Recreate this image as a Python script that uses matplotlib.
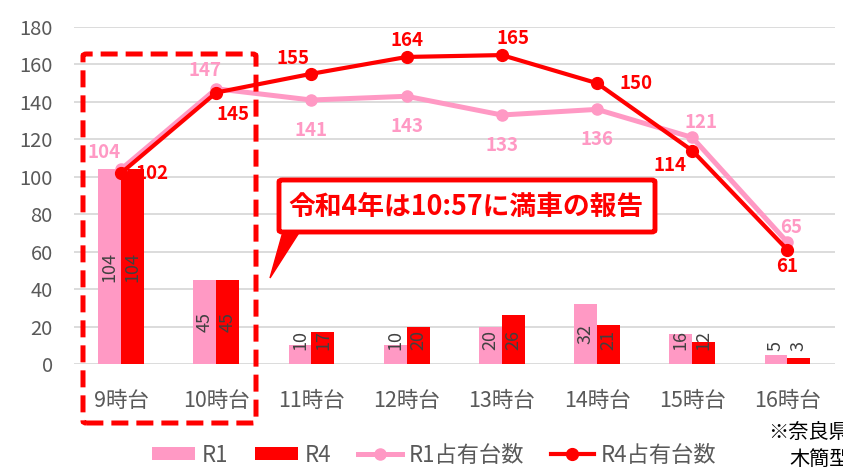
import matplotlib
matplotlib.use("Agg")
import matplotlib.pyplot as plt
from matplotlib.patches import Patch, FancyBboxPatch, Polygon
from matplotlib.lines import Line2D

plt.rcParams['font.family'] = ['Noto Sans CJK JP', 'DejaVu Sans']

# データ
hours = ['9時台', '10時台', '11時台', '12時台', '13時台', '14時台', '15時台', '16時台']
r1_bars = [104, 45, 10, 10, 20, 32, 16, 5]
r4_bars = [104, 45, 17, 20, 26, 21, 12, 3]
r1_occ = [104, 147, 141, 143, 133, 136, 121, 65]
r4_occ = [102, 145, 155, 164, 165, 150, 114, 61]

PINK = '#FF99C4'
RED = '#FF0000'
GRAY = '#595959'

W, H = 843, 468
fig = plt.figure(figsize=(W / 100, H / 100), dpi=100)
ax = fig.add_axes([73.5 / W, 1 - 364 / H, (835 - 73.5) / W, (364 - 27) / H])

def fx(px):
    return px / W

def fy(py):
    return 1 - py / H

x = list(range(len(hours)))
bw = 0.24
ax.bar([i - bw / 2 for i in x], r1_bars, width=bw, color=PINK, zorder=2)
ax.bar([i + bw / 2 for i in x], r4_bars, width=bw, color=RED, zorder=2)

# 棒グラフのラベル（縦書き）
for vals, off in ((r1_bars, -bw / 2), (r4_bars, bw / 2)):
    for i, v in enumerate(vals):
        yc = max(v / 2, 6.5 + 3.1 * len(str(v)))
        ax.text(i + off, yc, str(v), rotation=90, ha='center', va='center',
                fontsize=13, color='#404040', zorder=3)

ax.plot(x, r1_occ, color=PINK, lw=3.6, marker='o', ms=8, zorder=4)
ax.plot(x, r4_occ, color=RED, lw=3.0, marker='o', ms=8.5, zorder=5)

# 折れ線のラベル位置（ポイント単位のずれ）
r1_off = [(-12, 12), (-8, 13), (0, -22), (0, -22), (0, -22), (0, -22), (6, 11), (3, 11)]
r4_off = [(22, 0), (12, -16), (-13, 11), (0, 12), (8, 12), (28, 0), (-16, -11), (0, -12)]
for i, v in enumerate(r1_occ):
    ax.annotate(str(v), (i, v), xytext=r1_off[i], textcoords='offset points',
                ha='center', va='center', fontsize=13.5, fontweight='bold',
                color=PINK, zorder=6)
for i, v in enumerate(r4_occ):
    ax.annotate(str(v), (i, v), xytext=r4_off[i], textcoords='offset points',
                ha='center', va='center', fontsize=13.5, fontweight='bold',
                color=RED, zorder=6)

ax.set_xlim(-0.5, len(hours) - 0.5)
ax.set_ylim(0, 180)
ax.set_yticks(range(0, 181, 20))
ax.set_xticks(x)
ax.set_xticklabels(hours)
ax.grid(axis='y', color='#D9D9D9', lw=1.3, zorder=0)
ax.set_axisbelow(True)
for s in ax.spines.values():
    s.set_visible(False)
ax.tick_params(axis='y', length=0, pad=15, labelsize=14.5, labelcolor=GRAY)
ax.tick_params(axis='x', length=0, pad=19, labelsize=15.5, labelcolor=GRAY)

# 点線の枠
frame = FancyBboxPatch((fx(83), fy(423)), fx(256) - fx(83), fy(54) - fy(423),
                       boxstyle='round,pad=0,rounding_size=0.004',
                       transform=fig.transFigure, fill=False, ec=RED, lw=3.6,
                       linestyle=(0, (3.4, 1.6)), zorder=10)
fig.patches.append(frame)

# 吹き出し
ptr = Polygon([(fx(284), fy(228)), (fx(302), fy(228)), (fx(270), fy(278))],
              closed=True, transform=fig.transFigure, fc=RED, ec=RED, lw=1, zorder=10)
fig.patches.append(ptr)
box = FancyBboxPatch((fx(279), fy(232)), fx(655) - fx(279), fy(180) - fy(232),
                     boxstyle='round,pad=0,rounding_size=0.004',
                     transform=fig.transFigure, fc='white', ec=RED, lw=3.5, zorder=11)
fig.patches.append(box)
fig.text(fx(466), fy(207), '令和4年は10:57に満車の報告', ha='center', va='center',
         fontsize=19.3, fontweight='bold', color=RED, zorder=12)

# 凡例
handles = [
    Patch(facecolor=PINK, edgecolor='none'),
    Patch(facecolor=RED, edgecolor='none'),
    Line2D([], [], color=PINK, lw=3.6, marker='o', ms=8),
    Line2D([], [], color=RED, lw=3.0, marker='o', ms=8.5),
]
labels = ['R1', 'R4', 'R1占有台数', 'R4占有台数']
leg = fig.legend(handles, labels, loc='center', bbox_to_anchor=(fx(434), fy(455)),
                 ncol=4, frameon=False, fontsize=16, handlelength=1.95,
                 handleheight=0.55, handletextpad=0.3, columnspacing=1.2)
for t in leg.get_texts():
    t.set_color(GRAY)

# 注記
fig.text(fx(768), fy(432), '※奈良県', ha='left', va='center', fontsize=14.5, color='black')
fig.text(fx(789), fy(459), '木簡型', ha='left', va='center', fontsize=14.5, color='black')

fig.savefig('out.png', dpi=100)
